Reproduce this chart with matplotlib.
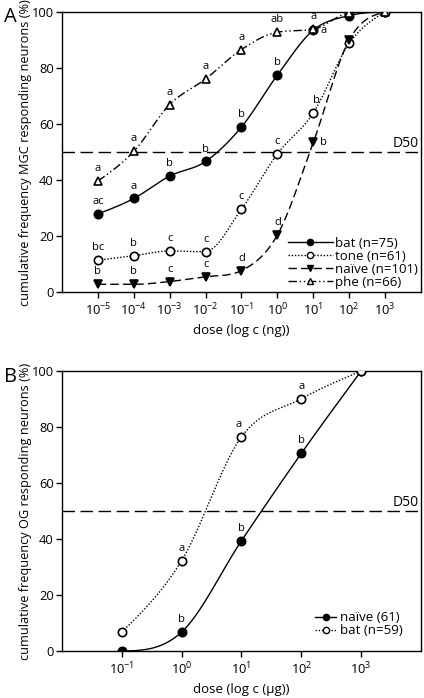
import matplotlib
matplotlib.use('Agg')
import matplotlib.pyplot as plt
import numpy as np

plt.rcParams['font.family'] = ['Open Sans', 'DejaVu Sans']
plt.rcParams['mathtext.fontset'] = 'custom'
plt.rcParams['mathtext.rm'] = 'Open Sans'
plt.rcParams['mathtext.it'] = 'Open Sans'

# ---- panel A data (MGC) ----
doseA = [1e-5, 1e-4, 1e-3, 1e-2, 1e-1, 1e0, 1e1, 1e2, 1e3]
batA = [28.0, 33.5, 41.5, 46.7, 59.0, 77.5, 93.5, 98.7, 100]
toneA = [11.5, 13.1, 14.8, 14.6, 29.7, 49.4, 64.0, 88.8, 100]
naiveA = [2.9, 2.9, 3.9, 5.6, 7.8, 20.5, 53.5, 90.0, 100]
pheA = [39.7, 50.3, 67.0, 76.1, 86.6, 92.8, 93.8, 99.6, 100]
bat_letA = ['ac', 'a', 'b', 'b', 'b', 'b', 'a', '', '']
tone_letA = ['bc', 'b', 'c', 'c', 'c', 'c', 'b', '', '']
naive_letA = ['b', 'b', 'c', 'c', 'd', 'd', 'b', '', '']
phe_letA = ['a', 'a', 'a', 'a', 'a', 'ab', 'a', '', '']

# ---- panel B data (OG) ----
doseB = [1e-1, 1e0, 1e1, 1e2, 1e3]
naiveB = [0.0, 6.8, 39.4, 70.6, 100]
batB = [6.8, 32.3, 76.5, 90.1, 100]
naive_letB = ['', 'b', 'b', 'b', '']
bat_letB = ['', 'a', 'a', 'a', '']


def smooth(x, y, n=40):
    # monotone-ish cubic hermite through the points in log10(x)
    lx = np.log10(x)
    y = np.asarray(y, float)
    d = np.diff(y) / np.diff(lx)
    m = np.zeros_like(y)
    m[1:-1] = (y[2:] - y[:-2]) / (lx[2:] - lx[:-2])
    m[0] = (3 * d[0] - m[1]) / 2
    m[-1] = (3 * d[-1] - m[-2]) / 2
    for i in range(len(d)):
        if d[i] == 0:
            m[i] = m[i + 1] = 0
            continue
        a, b = m[i] / d[i], m[i + 1] / d[i]
        if a < 0:
            m[i] = 0
        if b < 0:
            m[i + 1] = 0
        s = a * a + b * b
        if s > 9:
            t = 3 / np.sqrt(s)
            m[i] = t * a * d[i]
            m[i + 1] = t * b * d[i]
    xs, ys = [], []
    for i in range(len(d)):
        h = lx[i + 1] - lx[i]
        t = np.linspace(0, 1, n)
        h00 = 2 * t**3 - 3 * t**2 + 1
        h10 = t**3 - 2 * t**2 + t
        h01 = -2 * t**3 + 3 * t**2
        h11 = t**3 - t**2
        xs.append(lx[i] + t * h)
        ys.append(h00 * y[i] + h10 * h * m[i] + h01 * y[i + 1] + h11 * h * m[i + 1])
    return 10 ** np.concatenate(xs), np.concatenate(ys)


def series(ax, x, y, ls, marker, mfc, ms, label):
    sx, sy = smooth(x, y)
    ax.plot(sx, sy, color='black', ls=ls, lw=1.0, zorder=2)
    ax.plot(x, y, ls='none', marker=marker, mfc=mfc, mec='black', mew=1.2,
            ms=ms, zorder=3)
    # legend proxy
    ax.plot([], [], color='black', ls=ls, lw=1.0, marker=marker, mfc=mfc,
            mec='black', ms=ms * 0.75, label=label)


def letters(ax, x, y, labs, special=None):
    special = special or {}
    for i, (xi, yi, s) in enumerate(zip(x, y, labs)):
        if not s:
            continue
        dx, dy, ha, va = special.get(i, (0, 5, 'center', 'bottom'))
        ax.annotate(s, (xi, yi), xytext=(dx, dy), textcoords='offset points',
                    ha=ha, va=va, fontsize=8)


def style(ax, xlim, ticks, ylabel, xlabel):
    ax.set_xscale('log')
    ax.set_xlim(*xlim)
    ax.set_ylim(0, 100)
    ax.set_xticks(ticks)
    ax.set_xticklabels([r'$10^{%d}$' % np.log10(t) for t in ticks])
    ax.minorticks_off()
    ax.set_yticks([0, 20, 40, 60, 80, 100])
    ax.tick_params(direction='out', length=4, width=1, labelsize=9.3)
    ax.tick_params(axis='x', pad=3)
    ax.tick_params(axis='y', pad=2)
    for sp in ax.spines.values():
        sp.set_linewidth(1.0)
    ax.set_ylabel(ylabel, fontsize=9.2, labelpad=0)
    ax.set_xlabel(xlabel, fontsize=9.5, labelpad=4)
    ax.axhline(50, color='black', lw=1.0, dashes=(9, 4), zorder=1)
    ax.text(0.995, 50.5, 'D50', transform=ax.get_yaxis_transform(),
            ha='right', va='bottom', fontsize=10)


fig = plt.figure(figsize=(4.24, 6.98), dpi=100)

# ---------- A ----------
axA = fig.add_axes([0.1462, 0.581, 0.8467, 0.4019])
series(axA, doseA, batA, '-', 'o', 'black', 6, 'bat (n=75)')
series(axA, doseA, toneA, (0, (1, 1.3)), 'o', 'white', 6, 'tone (n=61)')
series(axA, doseA, naiveA, (0, (6, 3)), 'v', 'black', 6, 'naïve (n=101)')
series(axA, doseA, pheA, (0, (6, 2, 1, 2, 1, 2)), '^', 'white', 5.5, 'phe (n=66)')
letters(axA, doseA, batA, bat_letA, {6: (5, 0, 'left', 'center')})
letters(axA, doseA, toneA, tone_letA, {6: (2, 5, 'center', 'bottom')})
letters(axA, doseA, naiveA, naive_letA, {6: (5, 0, 'left', 'center')})
letters(axA, doseA, pheA, phe_letA)
style(axA, (1e-6, 1e4), doseA,
      'cumulative frequency MGC responding neurons (%)', 'dose (log c (ng))')
axA.legend(loc='lower right', bbox_to_anchor=(1.005, -0.005), frameon=False,
           fontsize=9.5, handlelength=3.4, handletextpad=0.15, labelspacing=0.0,
           borderaxespad=0.0)
fig.text(0.01, 0.975, 'A', fontsize=14.5, va='center')

# ---------- B ----------
axB = fig.add_axes([0.1462, 0.0673, 0.8467, 0.4011])
series(axB, doseB, naiveB, '-', 'o', 'black', 6, 'naïve (61)')
series(axB, doseB, batB, (0, (1, 1.3)), 'o', 'white', 6, 'bat (n=59)')
letters(axB, doseB, naiveB, naive_letB)
letters(axB, doseB, batB, bat_letB, {2: (-2, 5, 'center', 'bottom')})
style(axB, (1e-2, 1e4), doseB,
      'cumulative frequency OG responding neurons (%)', 'dose (log c (µg))')
axB.legend(loc='lower right', bbox_to_anchor=(0.965, 0.03), frameon=False,
           fontsize=9.5, handlelength=1.6, handletextpad=0.3, labelspacing=0.0,
           borderaxespad=0.0)
fig.text(0.01, 0.46, 'B', fontsize=14.5, va='center')

fig.savefig('out.png', dpi=100)
